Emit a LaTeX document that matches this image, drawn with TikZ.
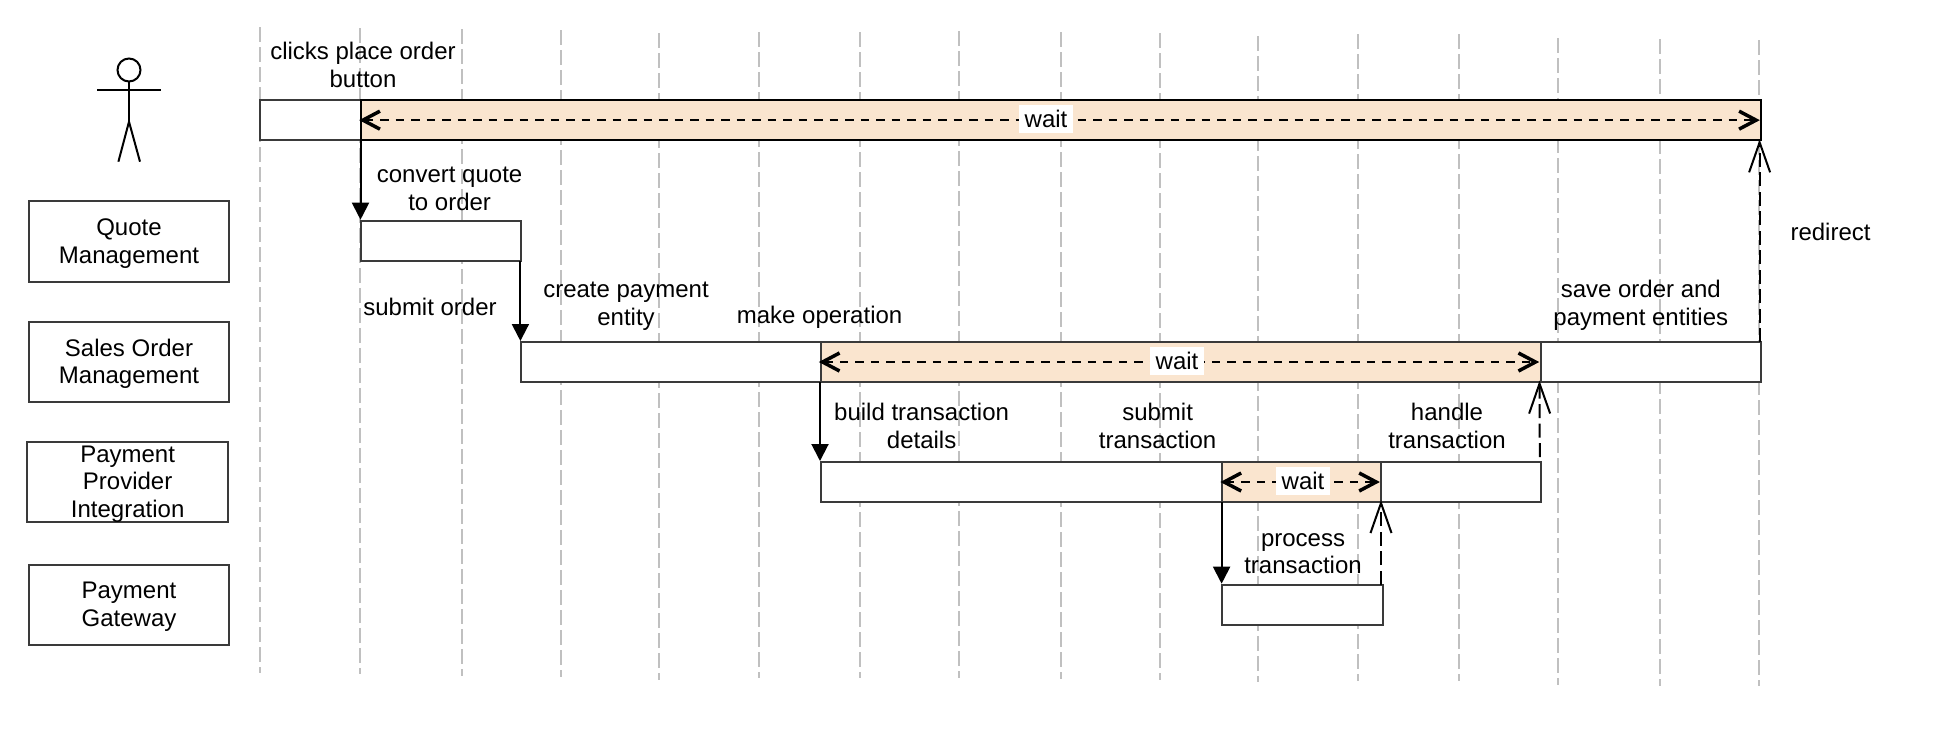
\documentclass[tikz,border=0pt]{standalone}
\usepackage{fontspec}
\setmainfont{Liberation Sans}
\usetikzlibrary{arrows.meta}
\definecolor{waitfill}{HTML}{FAE5CF}
\definecolor{boxline}{HTML}{3A3A3A}
\definecolor{lifeline}{HTML}{C0C0C0}
\tikzset{
  x=1pt,y=-1pt,
  lifel/.style={draw=lifeline,line width=2pt,dash pattern=on 15pt off 5pt},
  txt/.style={font=\fontsize{24}{27.7}\selectfont,align=center,inner sep=0pt,outer sep=0pt},
  actorline/.style={draw=black,line width=2pt},
  lane/.style={draw=boxline,line width=2pt,fill=white,inner sep=0pt,outer sep=0pt,anchor=north west,align=center,font=\fontsize{24}{27.7}\selectfont},
  activ/.style={draw=boxline,line width=2pt,fill=white,inner sep=0pt,outer sep=0pt,anchor=north west},
  waitbar/.style={draw=#1,line width=2pt,fill=waitfill,inner sep=0pt,outer sep=0pt,anchor=north west},
  waitbar/.default=boxline,
  callarrow/.style={draw=black,line width=2pt,-{Triangle[length=17pt,width=17pt]},shorten >=1pt},
  replyarrow/.style={draw=black,line width=2pt,dash pattern=on 14pt off 5.5pt,-{Straight Barb[length=30pt,width=21pt,line width=2pt]}},
  spanarrow/.style={draw=black,line width=2pt,dash pattern=on 8.5pt off 7pt,shorten <=-2pt,shorten >=1.5pt,
    {Straight Barb[length=17pt,width=18pt,line width=3.5pt]}-{Straight Barb[length=17pt,width=18pt,line width=3.5pt]}},
  waittag/.style={txt,fill=white,minimum width=54pt,minimum height=28pt},
}
\newcommand{\lifelinex}[3]{\draw[lifel] (#1,#2) -- (#1,#3);}
\newcommand{\lanetext}[1]{\raisebox{-2pt}[\height][\depth]{#1}}
\begin{document}
\begin{tikzpicture}
\useasboundingbox (0,0) rectangle (1934,734);
\fill[white] (0,0) rectangle (1934,734);
% lifelines
\lifelinex{260.4}{27}{673}
\lifelinex{360}{28}{674}
\lifelinex{461.6}{29}{676}
\lifelinex{561.2}{30}{677}
\lifelinex{658.8}{33}{680}
\lifelinex{758.8}{32}{678}
\lifelinex{859.6}{32}{678}
\lifelinex{958.8}{31}{678}
\lifelinex{1060.8}{32}{679}
\lifelinex{1160}{33}{680}
\lifelinex{1258.4}{36}{682}
\lifelinex{1358}{34}{681}
\lifelinex{1458.9}{34}{681}
\lifelinex{1557.8}{38}{685}
\lifelinex{1659.5}{39}{686}
\lifelinex{1759.2}{40}{686}
% actor
\node[draw=black,line width=2pt,circle,minimum size=23pt,inner sep=0pt,outer sep=0pt] (head) at (129,70) {};
\coordinate (armL) at (97,90.3);
\coordinate (armR) at (161,90.3);
\coordinate (hip) at (129,121.7);
\coordinate (legL) at (118.4,161.7);
\coordinate (legR) at (140,161.7);
\draw[actorline] (head.south) -- (hip);
\draw[actorline] (armL) -- (armR);
\draw[actorline] (legL) -- (hip) -- (legR);
% lanes
\node[lane,minimum width=200.8pt,minimum height=80.7pt] (qm) at (28.6,201) {\lanetext{Quote}\\\lanetext{Management}};
\node[lane,minimum width=200.8pt,minimum height=79.7pt] (som) at (28.6,322) {\lanetext{Sales Order}\\\lanetext{Management}};
\node[lane,minimum width=200.7pt,minimum height=80pt] (ppi) at (27.3,442) {\lanetext{Payment}\\\lanetext{Provider}\\\lanetext{Integration}};
\node[lane,minimum width=200.8pt,minimum height=80.3pt] (pg) at (28.6,564.7) {\lanetext{Payment}\\\lanetext{Gateway}};
% activations
\node[activ,minimum width=101.6pt,minimum height=40.3pt] (a1) at (259.6,100) {};
\node[waitbar=black,minimum width=1400.1pt,minimum height=40.3pt] (w1) at (361.2,100) {};
\node[activ,minimum width=160pt,minimum height=40.3pt] (a2) at (361.2,220.7) {};
\node[activ,minimum width=1240.1pt,minimum height=40pt] (a3) at (521.2,342) {};
\node[waitbar,minimum width=719.9pt,minimum height=40pt] (w2) at (820.8,342) {};
\node[activ,minimum width=720.2pt,minimum height=40pt] (a4) at (820.8,462) {};
\node[waitbar,minimum width=159pt,minimum height=40pt] (w3) at (1222.4,462) {};
\node[activ,minimum width=160.6pt,minimum height=40.3pt] (a5) at (1222.4,584.7) {};
% wait spans
\draw[spanarrow] (w1.west) -- (w1.east);
\draw[spanarrow] (w2.west) -- (w2.east);
\draw[spanarrow] (w3.west) -- (w3.east);
\node[waittag] (t1) at (1046,119) {wait};
\node[waittag] (t2) at (1177,361) {wait};
\node[waittag] (t3) at (1303,481) {wait};
% calls
\draw[callarrow] ([xshift=-0.7pt]a1.south east) -- ([xshift=-0.7pt]a2.north west);
\draw[callarrow] ([xshift=-0.8pt]a2.south east) -- ([xshift=-0.8pt]a3.north west);
\draw[callarrow] ([xshift=-0.8pt]w2.south west) -- ([xshift=-0.8pt]a4.north west);
\draw[callarrow] ([xshift=-0.8pt]w3.south west) -- ([xshift=-0.8pt]a5.north west);
% replies
\draw[replyarrow] ([xshift=-1.7pt]a3.north east) -- ([xshift=-1.7pt,yshift=1pt]w1.south east);
\draw[replyarrow,shorten <=5pt] ([xshift=-1.2pt]a4.north east) -- ([xshift=-1.2pt,yshift=1.5pt]w2.south east);
\draw[replyarrow] ([xshift=-2pt]a5.north east) -- ([xshift=-0.4pt,yshift=2pt]w3.south east);
% labels
\node[txt] (l1) at (363,65) {clicks place order\\button};
\node[txt] (l2) at (449.6,189) {convert quote\\to order};
\node[txt] (l3) at (430,307) {submit order};
\node[txt] (l4) at (626,306.5) {create payment\\entity};
\node[txt] (l5) at (819.6,317) {make operation};
\node[txt] (l6) at (921.6,426) {build transaction\\details};
\node[txt] (l7) at (1157.6,426) {submit\\transaction};
\node[txt] (l8) at (1447,426) {handle\\transaction};
\node[txt] (l9) at (1303,553.5) {process\\transaction};
\node[txt] (l10) at (1640.8,305) {save order and\\payment entities};
\node[txt] (l11) at (1830.5,232) {redirect};
\end{tikzpicture}
\end{document}
